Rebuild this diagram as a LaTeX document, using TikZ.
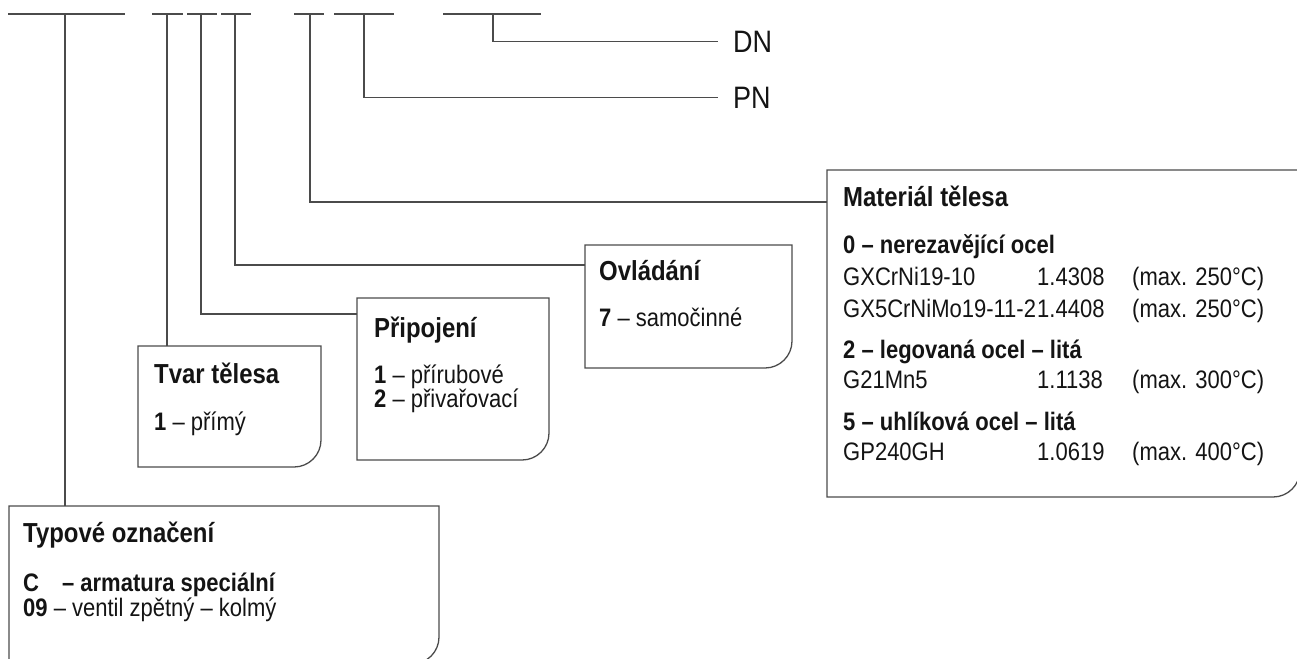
\documentclass[tikz,border=0pt]{standalone}
\usepackage{fontspec}
\setmainfont{Liberation Sans}[FakeStretch=0.87]
\usetikzlibrary{calc}
\definecolor{lngray}{RGB}{75,75,75}
\definecolor{txtblack}{RGB}{20,20,20}

\newcommand{\cutbox}[1]{\draw[ln] (#1.north west) -- (#1.north east) -- ([yshift=27pt]#1.south east) arc[start angle=0,end angle=-90,radius=27pt] -- (#1.south west) -- cycle;}

\begin{document}
\begin{tikzpicture}[x=1pt,y=-1pt]

\tikzstyle{ln} = [draw=lngray, line width=1.3]
\tikzstyle{box} = [draw=none, outer sep=0, inner sep=0, anchor=north west]
\tikzstyle{ttl} = [anchor=base west, inner sep=0, text=txtblack, font=\bfseries\fontsize{27.5}{31}\selectfont]
\tikzstyle{txt} = [anchor=base west, inner sep=0, text=txtblack, font=\fontsize{25.3}{29}\selectfont]
\tikzstyle{code} = [anchor=west, inner sep=0, text=txtblack, font=\fontsize{31}{35}\selectfont]

\useasboundingbox (0,0) rectangle (1297,658);

\node[box, minimum width=430, minimum height=158] (typ) at (9,506) {};
\node[box, minimum width=183, minimum height=121] (tvar) at (138,346) {};
\node[box, minimum width=192, minimum height=162] (pri) at (357,298) {};
\node[box, minimum width=207, minimum height=123] (ovl) at (585,245) {};
\node[box, minimum width=473, minimum height=327] (mat) at (827,170) {};
\cutbox{typ}
\cutbox{tvar}
\cutbox{pri}
\cutbox{ovl}
\cutbox{mat}

\node[ttl] (typ-t) at (23,542) {Typové označení};
\node[txt] (typ-1) at (23,591) {\textbf{C\hspace{23pt}– armatura speciální}};
\node[txt] (typ-2) at (23,616) {\textbf{09} – ventil zpětný – kolmý};

\node[ttl] (tvar-t) at (154,383) {Tvar tělesa};
\node[txt] (tvar-1) at (154,430) {\textbf{1} – přímý};

\node[ttl] (pri-t) at (374,337) {Připojení};
\node[txt] (pri-1) at (374,383) {\textbf{1} – přírubové};
\node[txt] (pri-2) at (374,407) {\textbf{2} – přivařovací};

\node[ttl] (ovl-t) at (599,280) {Ovládání};
\node[txt] (ovl-1) at (599,326) {\textbf{7} – samočinné};

\node[ttl] (mat-t) at (843,206) {Materiál tělesa};
\node[txt] (mat-0) at (843,253) {\textbf{0 – nerezavějící ocel}};
\node[txt] (mat-n1) at (843,285) {GXCrNi19-10};
\node[txt] (mat-c1) at (1037,285) {1.4308};
\node[txt] (mat-m1) at (1132,285) {(max. 250°C)};
\node[txt] (mat-n2) at (843,317) {GX5CrNiMo19-11-2};
\node[txt] (mat-c2) at (1037,317) {1.4408};
\node[txt] (mat-m2) at (1132,317) {(max. 250°C)};
\node[txt] (mat-2) at (843,358) {\textbf{2 – legovaná ocel – litá}};
\node[txt] (mat-n3) at (843,388) {G21Mn5};
\node[txt] (mat-c3) at (1037,388) {1.1138};
\node[txt] (mat-m3) at (1132,388) {(max. 300°C)};
\node[txt] (mat-5) at (843,430) {\textbf{5 – uhlíková ocel – litá}};
\node[txt] (mat-n4) at (843,460) {GP240GH};
\node[txt] (mat-c4) at (1037,460) {1.0619};
\node[txt] (mat-m4) at (1132,460) {(max. 400°C)};

\node[code] (dn) at (733,41.5) {DN};
\node[code] (pn) at (733,97.5) {PN};

\coordinate (b1) at (65,14);
\coordinate (b2) at (167,14);
\coordinate (b3) at (201,14);
\coordinate (b4) at (235,14);
\coordinate (b5) at (310,14);
\coordinate (b6) at (364,14);
\coordinate (b7) at (493,14);

\draw[ln] (8,14) -- (125,14);
\draw[ln] (152,14) -- (183,14);
\draw[ln] (187,14) -- (217,14);
\draw[ln] (221,14) -- (251,14);
\draw[ln] (294,14) -- (324,14);
\draw[ln] (334,14) -- (394,14);
\draw[ln] (443,14) -- (541,14);

\draw[ln] (b1) -- (typ.north -| b1);
\draw[ln] (b2) -- (tvar.north -| b2);
\draw[ln] (b3) |- ([yshift=-16pt]pri.north west);
\draw[ln] (b4) |- ([yshift=-20pt]ovl.north west);
\draw[ln] (b5) |- ([yshift=-32pt]mat.north west);
\draw[ln] (b6) |- ([xshift=-15pt]pn.west);
\draw[ln] (b7) |- ([xshift=-15pt]dn.west);

\end{tikzpicture}
\end{document}
